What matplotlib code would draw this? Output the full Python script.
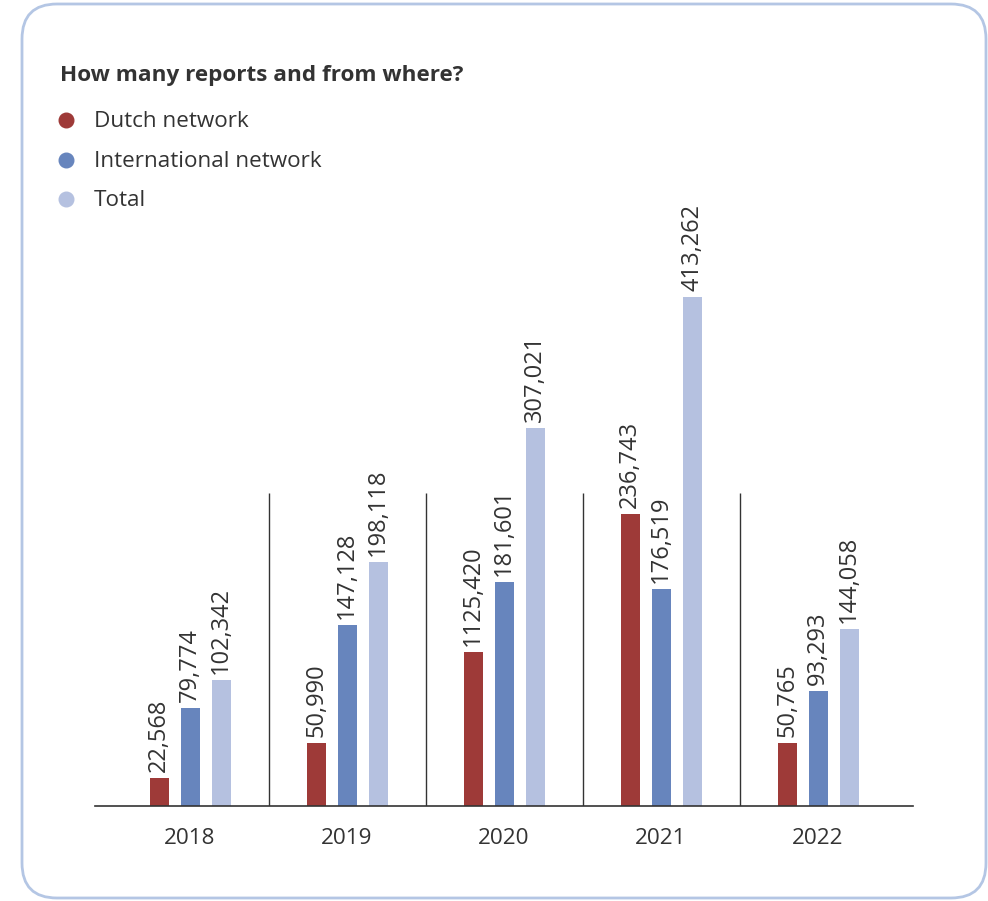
import matplotlib.pyplot as plt
import numpy as np
from matplotlib.patches import FancyBboxPatch
from matplotlib.lines import Line2D

plt.rcParams['font.family'] = ['Open Sans', 'DejaVu Sans']

years = ['2018', '2019', '2020', '2021', '2022']
dutch = [22568, 50990, 125420, 236743, 50765]
international = [79774, 147128, 181601, 176519, 93293]
total = [102342, 198118, 307021, 413262, 144058]
dutch_labels = ['22,568', '50,990', '1125,420', '236,743', '50,765']
int_labels = ['79,774', '147,128', '181,601', '176,519', '93,293']
total_labels = ['102,342', '198,118', '307,021', '413,262', '144,058']
series_names = ['Dutch network', 'International network', 'Total']

colors = ['#9E3A38', '#6785BD', '#B5C1E0']
text_color = '#333333'

W, H = 988, 901
fig = plt.figure(figsize=(W / 100, H / 100), dpi=100)

# rounded frame around everything
frame = FancyBboxPatch((0.22, 0.03), 9.64, 8.94,
                       boxstyle='round,pad=0,rounding_size=0.35',
                       transform=fig.dpi_scale_trans, facecolor='white',
                       edgecolor='#B4C6E4', linewidth=2, zorder=0)
fig.add_artist(frame)

# axes: baseline at y=806 px, top at y=200 px
ax = fig.add_axes([95 / W, (H - 806) / H, 818 / W, 606 / H])
ax.set_facecolor('none')
px_per_unit = 509 / 413262
ax.set_ylim(0, 606 / px_per_unit)
ax.set_xlim(-95 / 157, 723 / 157)

x = np.arange(len(years))
bw = 19 / 157
off = 31 / 157
groups = [(dutch, dutch_labels), (international, int_labels), (total, total_labels)]
for i, (vals, labs) in enumerate(groups):
    xs = x + (i - 1) * off
    ax.bar(xs, vals, width=bw, color=colors[i], zorder=2)
    for xi, v, lab in zip(xs, vals, labs):
        ax.text(xi, v + 6 / px_per_unit, lab, rotation=90, ha='center', va='bottom',
                fontsize=17, color=text_color)

# separators between years
ax.vlines(x[:-1] + 0.5, 0, 313 / px_per_unit, color='#333333', linewidth=1)

for s in ['top', 'right', 'left']:
    ax.spines[s].set_visible(False)
ax.spines['bottom'].set_color('#333333')
ax.spines['bottom'].set_linewidth(1.2)
ax.set_yticks([])
ax.set_xticks(x)
ax.set_xticklabels(years, fontsize=16.2, color=text_color)
ax.tick_params(axis='x', length=0, pad=16)

# title and legend
fig.text(60 / W, 1 - 76 / H, 'How many reports and from where?', fontsize=16.2,
         fontweight='bold', color=text_color, va='center', ha='left')
for k, name in enumerate(series_names):
    yk = 1 - (120 + 39.5 * k) / H
    fig.add_artist(Line2D([66 / W], [yk], marker='o', markersize=10.5, color=colors[k],
                          linestyle='none', transform=fig.transFigure))
    fig.text(94 / W, yk - 1.5 / H, name, fontsize=16.2, color=text_color,
             va='center', ha='left')

fig.savefig('out.png', dpi=100)
